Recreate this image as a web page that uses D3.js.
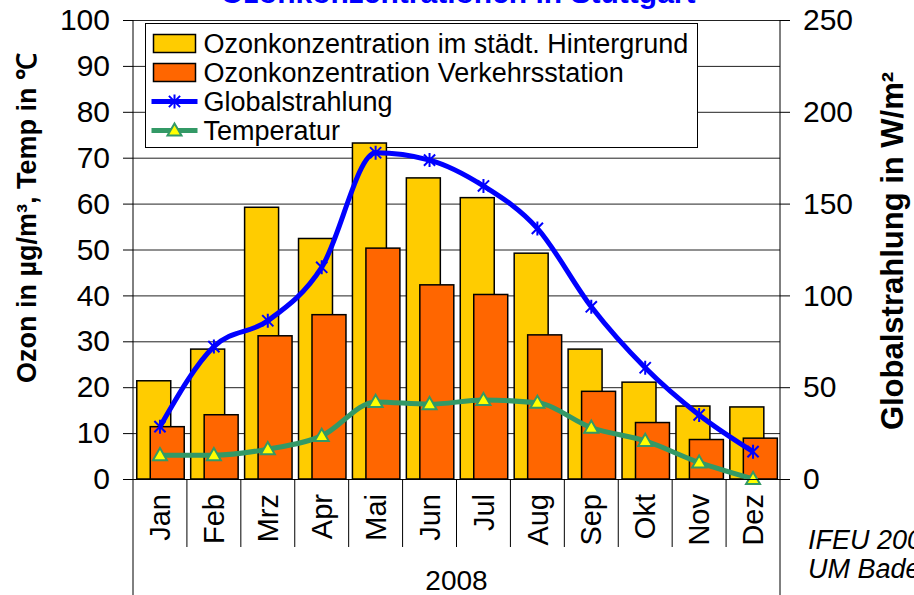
<!DOCTYPE html>
<html>
<head>
<meta charset="utf-8">
<script src="https://cdn.jsdelivr.net/npm/d3@7"></script>
<style>
  body { margin: 0; background: #fff; }
  svg { display: block; font-family: "Liberation Sans", Arial, sans-serif; }
</style>
</head>
<body>
<div class="canvas"></div>
<script>
const months = ['Jan', 'Feb', 'Mrz', 'Apr', 'Mai', 'Jun', 'Jul', 'Aug', 'Sep', 'Okt', 'Nov', 'Dez'];
const ozonHintergrund = [21.4, 28.3, 59.2, 52.4, 73.2, 65.6, 61.3, 49.2, 28.3, 21.1, 15.9, 15.7];
const ozonVerkehr = [11.4, 14.0, 31.2, 35.8, 50.3, 42.3, 40.2, 31.4, 19.1, 12.3, 8.6, 8.9];
const globalstrahlung = [28.5, 72.1, 86.2, 115.3, 177.7, 173.7, 159.6, 136.5, 93.8, 60.6, 34.9, 14.9];
const temperatur = [5.2, 5.2, 6.5, 9.4, 16.8, 16.3, 17.2, 16.6, 11.2, 8.3, 3.6, 0.0];
const leftTicks = [0, 10, 20, 30, 40, 50, 60, 70, 80, 90, 100];
const rightTicks = [0, 50, 100, 150, 200, 250];
const legendNames = [
  'Ozonkonzentration im städt. Hintergrund',
  'Ozonkonzentration Verkehrsstation',
  'Globalstrahlung',
  'Temperatur'
];

const dims = { width: 914, height: 595 };
const plot = { left: 133, right: 780, top: 20, bottom: 479 };
const colors = { yellow: '#ffcc00', orange: '#ff6600', blue: '#0000ff', green: '#339966', tri: '#ffff00' };

const svg = d3
  .select('.canvas')
  .append('svg')
  .attr('width', dims.width)
  .attr('height', dims.height);

const x = d3.scaleBand().domain(months).range([plot.left, plot.right]).padding(0);
const yLeft = d3.scaleLinear().domain([0, 100]).range([plot.bottom, plot.top]);
const yRight = d3.scaleLinear().domain([0, 250]).range([plot.bottom, plot.top]);
const bw = x.bandwidth();

// title (cut off at the top, as in the original)
svg
  .append('text')
  .attr('x', 458)
  .attr('y', 3)
  .attr('text-anchor', 'middle')
  .attr('font-size', 30)
  .attr('font-weight', 'bold')
  .attr('fill', colors.blue)
  .text('Ozonkonzentrationen in Stuttgart');

// gridlines
const grid = svg
  .append('g')
  .attr('transform', `translate(${plot.left}, 0)`)
  .call(d3.axisLeft(yLeft).tickValues(leftTicks).tickSize(-(plot.right - plot.left)).tickFormat(''));
grid.select('.domain').remove();
grid.selectAll('line').attr('stroke', '#222').attr('stroke-width', 1);

// legend box (bars are drawn over it)
const legend = svg.append('g').attr('transform', 'translate(145.5, 23.5)');
legend
  .append('rect')
  .attr('width', 552)
  .attr('height', 124)
  .attr('fill', '#fff')
  .attr('stroke', '#000')
  .attr('stroke-width', 1);

const legendItems = legend
  .selectAll('.legend-item')
  .data(legendNames)
  .enter()
  .append('g')
  .attr('class', 'legend-item')
  .attr('transform', (d, i) => `translate(0, ${20 + i * 29})`);

legendItems
  .append('text')
  .attr('x', 58)
  .attr('y', 0)
  .attr('dy', '0.35em')
  .attr('font-size', 27)
  .attr('fill', '#000')
  .text((d) => d);

legendItems
  .filter((d, i) => i < 2)
  .append('rect')
  .attr('x', 8)
  .attr('y', -9)
  .attr('width', 42)
  .attr('height', 18)
  .attr('fill', (d, i) => (i === 0 ? colors.yellow : colors.orange))
  .attr('stroke', '#000')
  .attr('stroke-width', 1.5);

legendItems
  .filter((d, i) => i >= 2)
  .append('line')
  .attr('x1', 6)
  .attr('x2', 52)
  .attr('stroke', (d, i) => (i === 0 ? colors.blue : colors.green))
  .attr('stroke-width', 5);

// markers
const star = (g, cx, cy) => {
  const r = 7;
  g.append('path')
    .attr('d', `M${cx},${cy - r}V${cy + r}M${cx - r * 0.8},${cy - r * 0.8}L${cx + r * 0.8},${cy + r * 0.8}M${cx - r * 0.8},${cy + r * 0.8}L${cx + r * 0.8},${cy - r * 0.8}`)
    .attr('stroke', colors.blue)
    .attr('stroke-width', 2)
    .attr('fill', 'none');
};
const triangle = (g, cx, cy) => {
  g.append('path')
    .attr('d', d3.symbol().type(d3.symbolTriangle).size(85)())
    .attr('transform', `translate(${cx}, ${cy + 1})`)
    .attr('fill', colors.tri)
    .attr('stroke', colors.green)
    .attr('stroke-width', 2);
};

legendItems.filter((d, i) => i === 2).each(function () {
  star(d3.select(this), 29, 0);
});
legendItems.filter((d, i) => i === 3).each(function () {
  triangle(d3.select(this), 29, 0);
});

// bars
svg
  .append('g')
  .selectAll('rect')
  .data(ozonHintergrund)
  .enter()
  .append('rect')
  .attr('x', (d, i) => x(months[i]) + bw * 0.07)
  .attr('y', (d) => yLeft(d))
  .attr('width', bw * 0.63)
  .attr('height', (d) => yLeft(0) - yLeft(d))
  .attr('fill', colors.yellow)
  .attr('stroke', '#000')
  .attr('stroke-width', 1.5);

svg
  .append('g')
  .selectAll('rect')
  .data(ozonVerkehr)
  .enter()
  .append('rect')
  .attr('x', (d, i) => x(months[i]) + bw * 0.32)
  .attr('y', (d) => yLeft(d))
  .attr('width', bw * 0.63)
  .attr('height', (d) => yLeft(0) - yLeft(d))
  .attr('fill', colors.orange)
  .attr('stroke', '#000')
  .attr('stroke-width', 1.5);

// lines
const cx = (i) => x(months[i]) + bw / 2;

const globLine = d3
  .line()
  .x((d, i) => cx(i))
  .y((d) => yRight(d))
  .curve(d3.curveMonotoneX);

const tempLine = d3
  .line()
  .x((d, i) => cx(i))
  .y((d) => yLeft(d))
  .curve(d3.curveMonotoneX);

svg
  .append('path')
  .datum(temperatur)
  .attr('d', tempLine)
  .attr('fill', 'none')
  .attr('stroke', colors.green)
  .attr('stroke-width', 5);

const tempMarks = svg.append('g');
temperatur.forEach((d, i) => triangle(tempMarks, cx(i), yLeft(d)));

svg
  .append('path')
  .datum(globalstrahlung)
  .attr('d', globLine)
  .attr('fill', 'none')
  .attr('stroke', colors.blue)
  .attr('stroke-width', 5);

const globMarks = svg.append('g');
globalstrahlung.forEach((d, i) => star(globMarks, cx(i), yRight(d)));

// axes
const leftAxis = svg
  .append('g')
  .attr('transform', `translate(${plot.left}, 0)`)
  .call(d3.axisLeft(yLeft).tickValues(leftTicks).tickSize(10).tickSizeOuter(0).tickPadding(13));

const rightAxis = svg
  .append('g')
  .attr('transform', `translate(${plot.right}, 0)`)
  .call(d3.axisRight(yRight).tickValues(rightTicks).tickSize(10).tickSizeOuter(0).tickPadding(13));

[leftAxis, rightAxis].forEach((a) => {
  a.select('.domain').remove();
  a.selectAll('line').attr('stroke', '#000');
  a.selectAll('text')
    .attr('font-size', 30)
    .attr('font-family', '"Liberation Sans", Arial, sans-serif')
    .attr('fill', '#000');
});

const bottomAxis = svg
  .append('g')
  .attr('transform', `translate(0, ${plot.bottom})`)
  .call(d3.axisBottom(x).tickSize(0).tickSizeOuter(0));
bottomAxis.select('.domain').attr('stroke', '#000');
bottomAxis
  .selectAll('text')
  .attr('transform', 'rotate(-90)')
  .attr('x', -15)
  .attr('y', 0)
  .attr('dy', '0.35em')
  .attr('text-anchor', 'end')
  .attr('font-size', 29)
  .attr('font-family', '"Liberation Sans", Arial, sans-serif')
  .attr('fill', '#000');

// category separators and the vertical axis lines
const bounds = d3.range(months.length + 1).map((i) => plot.left + i * bw);
svg
  .append('g')
  .selectAll('line')
  .data(bounds)
  .enter()
  .append('line')
  .attr('x1', (d) => d)
  .attr('x2', (d) => d)
  .attr('y1', (d, i) => (i === 0 || i === months.length ? plot.top : plot.bottom))
  .attr('y2', (d, i) => (i === 0 || i === months.length ? dims.height : 547))
  .attr('stroke', '#000')
  .attr('stroke-width', 1);

svg
  .append('text')
  .attr('x', (plot.left + plot.right) / 2)
  .attr('y', 590)
  .attr('text-anchor', 'middle')
  .attr('font-size', 28)
  .text('2008');

// axis titles
svg
  .append('text')
  .attr('transform', 'translate(36, 218) rotate(-90)')
  .attr('text-anchor', 'middle')
  .attr('font-size', 27)
  .attr('font-weight', 'bold')
  .text('Ozon in µg/m³, Temp in ℃');

svg
  .append('text')
  .attr('transform', 'translate(903, 251) rotate(-90)')
  .attr('text-anchor', 'middle')
  .attr('font-size', 31)
  .attr('font-weight', 'bold')
  .text('Globalstrahlung in W/m²');

// source note, runs off the right edge
svg
  .append('text')
  .attr('x', 808)
  .attr('y', 549)
  .attr('font-size', 27)
  .attr('font-style', 'italic')
  .text('IFEU 2009');

svg
  .append('text')
  .attr('x', 808)
  .attr('y', 578)
  .attr('font-size', 27)
  .attr('font-style', 'italic')
  .text('UM Baden-Württemberg');
</script>
</body>
</html>
